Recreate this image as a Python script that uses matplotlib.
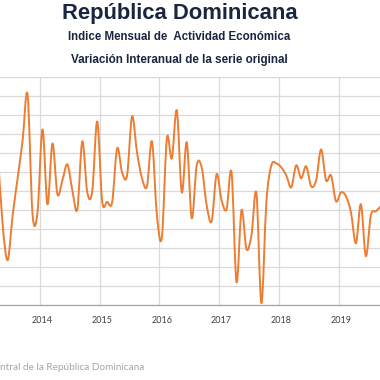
import numpy as np
from matplotlib import pyplot as plt
from matplotlib.path import Path
from matplotlib.patches import PathPatch

# meses: 0 = enero 2014 (desde abril 2013 hasta septiembre 2019)
meses = np.arange(-9, 69)
variacion = [8.14, 4.20, 2.36, 4.72, 6.67, 8.66, 11.08, 4.78, 4.88,
             9.24, 5.30, 8.50, 5.83, 6.56, 7.40, 6.04, 5.04, 8.61, 5.93, 5.98, 9.66,
             5.46, 5.43, 5.41, 8.24, 6.98, 6.82, 9.92, 8.03, 6.67, 6.25, 8.61, 4.72,
             3.57, 8.77, 7.72, 10.24, 5.93, 8.56, 4.57, 7.35, 7.24, 5.25, 4.41, 6.88,
             5.51, 5.04, 6.98, 1.21, 4.99, 2.94, 3.67, 5.88, 0.10, 5.41, 7.35, 7.45,
             7.24, 6.82, 6.19, 7.35, 6.67, 7.30, 6.25, 6.56, 8.19, 6.56, 6.82, 5.46,
             5.93, 5.72, 4.88, 3.25, 5.30, 2.57, 4.72, 4.93, 5.20]
anios = ['2014', '2015', '2016', '2017', '2018', '2019']

def curva_suave(x, y):
    # linea suavizada tipo Excel (Catmull-Rom -> Bezier)
    p = np.column_stack([x, y])
    verts = [p[0]]
    codes = [Path.MOVETO]
    n = len(p)
    for i in range(n - 1):
        p0 = p[i - 1] if i > 0 else p[i]
        p3 = p[i + 2] if i + 2 < n else p[i + 1]
        c1 = p[i] + (p[i + 1] - p0) / 6
        c2 = p[i + 1] - (p3 - p[i]) / 6
        verts += [c1, c2, p[i + 1]]
        codes += [Path.CURVE4] * 3
    return Path(verts, codes)

fig = plt.figure(figsize=(3.8, 3.8), dpi=100)
ax = fig.add_axes([0, 0.1974, 1, 0.6])

ax.add_patch(PathPatch(curva_suave(meses, np.array(variacion)), fill=False,
                       edgecolor='#ED7D31', lw=1.4, capstyle='round',
                       joinstyle='round', zorder=3))

ax.set_xlim(-8.54, 67.84)
ax.set_ylim(0, 12)
ax.set_yticks(np.arange(0, 13))
ax.set_xticks(np.arange(len(anios)) * 12)
ax.set_xticks(np.arange(len(anios)) * 12 - 0.5, minor=True)
ax.set_xticklabels(anios, fontsize=6.5, color='#404040', family='Lato')
ax.tick_params(axis='both', which='both', length=0)
ax.tick_params(axis='x', pad=8)
ax.set_yticklabels([])
ax.grid(axis='y', color='#d9d9d9', lw=0.9)
ax.grid(axis='x', which='minor', color='#d9d9d9', lw=0.9)
for s in ['left', 'right', 'top']:
    ax.spines[s].set_visible(False)
ax.spines['bottom'].set_color('#a6a6a6')
ax.spines['bottom'].set_linewidth(0.9)

fig.text(180/380, 1 - 14/380, 'República Dominicana', ha='center', va='center',
         fontsize=15.8, fontweight='bold', color='#1A2540', family='Liberation Sans')
fig.text(179/380, 1 - 37/380, 'Indice Mensual de  Actividad Económica', ha='center',
         va='center', fontsize=8.3, fontweight='bold', color='#1A2540', family='Liberation Sans')
fig.text(179/380, 1 - 59.5/380, 'Variación Interanual de la serie original', ha='center',
         va='center', fontsize=8.4, fontweight='bold', color='#1A2540', family='Liberation Sans')
# pie de fuente, recortado por el borde izquierdo como en el original
fig.text(0.5/380, 1 - 368/380, 'ntral de la República Dominicana',
         ha='left', va='center', fontsize=7.2, color='#a6a6a6', family='Lato')

fig.savefig('out.png', dpi=100)
